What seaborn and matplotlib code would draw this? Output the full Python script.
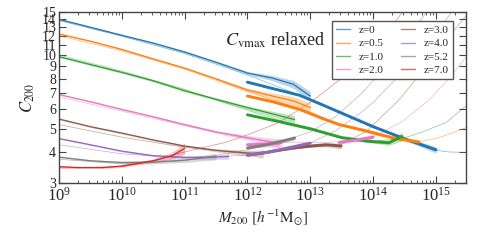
import pandas as pd
import matplotlib
matplotlib.use('Agg')
import matplotlib.pyplot as plt
import matplotlib.ticker as mticker
from matplotlib.lines import Line2D
import seaborn as sns

# redshift labels and colours
redshifts = ['0', '0.5', '1.0', '2.0', '3.0', '4.0', '5.2', '7.0']
colors = ['#1f77b4', '#ff7f0e', '#2ca02c', '#e377c2', '#8c564b', '#9467bd', '#7f7f7f', '#d62728']

# low-mass data: (log10 M200, C200, band half-width)
med_z0 = [(9.0, 14.0, .1), (9.5, 13.0, .1), (10.0, 12.05, .1), (10.5, 11.2, .1), (11.0, 10.3, .1),
          (11.5, 9.35, .1), (12.0, 8.45, .12), (12.4, 8.05, .2), (12.73, 7.6, .28), (13.0, 6.8, .3)]
med_z05 = [(9.0, 12.2, .08), (9.5, 11.4, .08), (10.0, 10.55, .08), (10.5, 9.65, .08), (11.0, 8.85, .08),
           (11.5, 8.0, .08), (12.0, 7.2, .12), (12.4, 6.8, .2), (12.73, 6.5, .28), (13.0, 6.1, .3)]
med_z1 = [(9.0, 9.85, .08), (9.5, 9.15, .08), (10.0, 8.5, .08), (10.5, 7.85, .08), (11.0, 7.15, .08),
          (11.5, 6.6, .08), (12.0, 6.1, .1), (12.4, 5.75, .15), (12.75, 5.45, .2)]
med_z2 = [(9.0, 6.9, .05), (9.5, 6.45, .05), (10.0, 6.0, .05), (10.5, 5.6, .05), (11.0, 5.2, .05),
          (11.5, 4.85, .07), (12.0, 4.6, .1), (12.3, 4.45, .15), (12.55, 4.35, .2)]
med_z3 = [(9.0, 5.48, .04), (9.5, 5.1, .04), (10.0, 4.8, .04), (10.5, 4.5, .04), (11.0, 4.25, .04),
          (11.5, 4.08, .06), (12.0, 3.98, .1), (12.25, 3.95, .15)]
med_z4 = [(9.0, 4.56, .03), (9.5, 4.3, .03), (10.0, 4.05, .03), (10.5, 3.88, .04), (11.0, 3.82, .05),
          (11.4, 3.82, .07), (11.7, 3.85, .1)]
med_z52 = [(9.0, 3.83, .03), (9.5, 3.7, .03), (10.0, 3.64, .04), (10.5, 3.65, .06), (11.0, 3.72, .08),
           (11.5, 3.85, .12)]
med_z7 = [(9.0, 3.5, .03), (9.3, 3.47, .03), (9.7, 3.47, .03), (10.0, 3.52, .04), (10.5, 3.7, .06),
          (10.8, 3.88, .12), (11.0, 4.15, .22)]

# high-mass data: (log10 M200, C200, band half-width)
thick_z0 = [(12.0, 7.75, .05), (12.4, 7.3, .05), (12.83, 6.85, .05), (13.2, 6.25, .05), (13.46, 5.85, .05),
            (14.0, 5.1, .05), (14.5, 4.55, .07), (15.0, 4.1, .12)]
thick_z05 = [(12.0, 6.8, .05), (12.4, 6.45, .05), (12.83, 6.0, .05), (13.2, 5.5, .05), (13.46, 5.2, .05),
             (13.89, 4.9, .05), (14.3, 4.6, .07), (14.73, 4.41, .1)]
thick_z1 = [(12.0, 5.7, .04), (12.5, 5.35, .04), (13.0, 5.0, .04), (13.5, 4.6, .04), (13.9, 4.45, .05),
            (14.25, 4.38, .1), (14.46, 4.65, .2)]
thick_z2 = [(12.0, 4.3, .12), (12.25, 4.32, .12), (12.5, 4.36, .15)]
thick_z2b = [(13.46, 4.4, .08), (13.75, 4.5, .08), (14.0, 4.62, .12)]
thick_z3 = [(12.0, 3.9, .04), (12.3, 4.0, .04), (12.71, 4.17, .04), (13.0, 4.25, .05), (13.25, 4.3, .08),
            (13.49, 4.25, .12)]
thick_z4 = [(12.0, 3.9, .03), (12.3, 4.0, .03), (12.6, 4.15, .04), (13.0, 4.37, .06)]
thick_z52 = [(12.0, 4.17, .04), (12.3, 4.3, .05), (12.55, 4.45, .07), (12.75, 4.58, .1)]

# model curves: (log10 M200, C200)
model_z0 = [(9.0, 13.85), (10.0, 11.95), (11.0, 10.15), (12.0, 8.3), (13.0, 6.6), (13.5, 5.8), (14.0, 5.1),
            (14.5, 4.55), (15.0, 4.08), (15.2, 4.02), (15.48, 4.0)]
model_z05 = [(9.0, 12.0), (10.0, 10.4), (11.0, 8.75), (12.0, 7.1), (13.0, 5.85), (13.5, 5.15), (14.0, 4.75),
             (14.4, 4.5), (14.73, 4.42), (15.05, 4.6), (15.3, 4.85), (15.48, 5.05)]
model_z1 = [(9.0, 10.0), (10.0, 8.6), (11.0, 7.25), (12.0, 5.95), (13.0, 4.95), (13.6, 4.55), (14.0, 4.45),
            (14.46, 4.55), (14.78, 4.85), (15.16, 5.3), (15.48, 6.2)]
model_z2 = [(9.0, 6.75), (10.0, 5.9), (11.0, 5.15), (12.0, 4.55), (12.5, 4.4), (13.0, 4.38), (13.5, 4.42),
            (14.0, 4.62), (14.46, 5.35), (14.89, 6.55), (15.2, 8.0), (15.48, 9.8)]
model_z3 = [(9.0, 5.2), (10.0, 4.62), (11.0, 4.2), (12.0, 3.95), (12.5, 4.05), (13.0, 4.2), (13.49, 4.3),
            (13.9, 4.9), (14.41, 6.55), (14.8, 8.7), (15.1, 11.0), (15.48, 14.5)]
model_z4 = [(9.0, 4.3), (10.0, 3.95), (11.0, 3.8), (12.0, 3.9), (12.5, 4.1), (13.0, 4.37), (13.4, 4.9),
            (13.78, 5.75), (14.0, 6.4), (14.5, 8.7), (15.0, 12.3), (15.25, 15.0)]
model_z52 = [(9.0, 3.75), (10.0, 3.6), (11.0, 3.7), (12.0, 4.1), (12.5, 4.4), (13.0, 4.85), (13.4, 5.6),
             (13.8, 6.9), (14.3, 9.6), (14.85, 15.0)]
model_z7 = [(9.0, 3.45), (10.0, 3.5), (10.5, 3.68), (10.97, 4.0), (11.67, 4.41), (12.03, 4.75), (12.5, 5.3),
            (13.0, 6.4), (13.46, 7.9), (14.0, 10.5), (14.46, 14.9)]

med = [med_z0, med_z05, med_z1, med_z2, med_z3, med_z4, med_z52, med_z7]
thick = [[thick_z0], [thick_z05], [thick_z1], [thick_z2, thick_z2b], [thick_z3], [thick_z4], [thick_z52], []]
model = [model_z0, model_z05, model_z1, model_z2, model_z3, model_z4, model_z52, model_z7]

sns.set_style('ticks')
plt.rcParams['font.family'] = ['Liberation Serif', 'DejaVu Serif']
plt.rcParams['mathtext.fontset'] = 'stix'


def draw_band(ax, pts, color, lw, zorder):
    df = pd.DataFrame(pts, columns=['logm', 'c', 'err'])
    df['m'] = 10 ** df['logm']
    ax.fill_between(df['m'], df['c'] - df['err'], df['c'] + df['err'], color=color, alpha=0.3, lw=0,
                    zorder=zorder)
    sns.lineplot(data=df, x='m', y='c', color=color, lw=lw, ax=ax, estimator=None, sort=False,
                 legend=False, zorder=zorder + 0.5)


fig = plt.figure(figsize=(4.91, 2.45), dpi=100)
ax = fig.add_axes([0.120, 0.253, 0.829, 0.698])
ax.set_xscale('log')
ax.set_yscale('log')

for i, col in enumerate(colors):
    dfm = pd.DataFrame(model[i], columns=['logm', 'c'])
    dfm['m'] = 10 ** dfm['logm']
    sns.lineplot(data=dfm, x='m', y='c', color=col, lw=0.5, alpha=0.55, ax=ax, estimator=None,
                 sort=False, legend=False, zorder=1)
    draw_band(ax, med[i], col, 0.9, 2)
    for seg in thick[i]:
        draw_band(ax, seg, col, 2.1, 3)

ax.set_xlim(1e9, 3e15)
ax.set_ylim(3, 15)
yt = list(range(3, 16))
ax.yaxis.set_major_locator(mticker.FixedLocator(yt))
ax.yaxis.set_major_formatter(mticker.FixedFormatter([str(v) for v in yt]))
ax.yaxis.set_minor_locator(mticker.NullLocator())
ax.xaxis.set_major_locator(mticker.FixedLocator([10.0 ** k for k in range(9, 16)]))
ax.xaxis.set_major_formatter(mticker.LogFormatterMathtext())
ax.xaxis.set_minor_locator(mticker.FixedLocator([s * 10.0 ** k for k in range(9, 16) for s in range(2, 10)
                                                 if s * 10.0 ** k <= 3e15]))
ax.xaxis.set_minor_formatter(mticker.NullFormatter())
ax.tick_params(which='both', direction='in', top=True, right=True, color='#444444')
ax.tick_params(which='major', length=5, width=0.8)
ax.tick_params(which='minor', length=2.5, width=0.6)
ax.tick_params(axis='x', labelsize=12, pad=3)
ax.tick_params(axis='y', labelsize=10, pad=2)
for s in ax.spines.values():
    s.set_color('#444444')
    s.set_linewidth(1.0)

ax.set_xlabel(r'$M_{200}\ [h^{-1}{\rm M}_{\odot}]$', fontsize=11, labelpad=2)
ax.set_ylabel(r'$C_{200}$', fontsize=12, labelpad=4)
ax.text(0.53, 0.835, r'$C_{\rm vmax}$ relaxed', transform=ax.transAxes, fontsize=13,
        ha='center', va='center')

handles = [Line2D([], [], color=c, lw=1.0, alpha=0.7) for c in colors]
labels = ['z=' + z for z in redshifts]
leg = ax.legend(handles, labels, ncol=2, loc='upper right', bbox_to_anchor=(0.968, 0.947),
                borderaxespad=0, fontsize=8, frameon=True, fancybox=False, framealpha=1,
                edgecolor='#555555', handlelength=1.2, handletextpad=0.8, columnspacing=1.6,
                labelspacing=0.3, borderpad=0.4)
leg.get_frame().set_linewidth(1.0)
leg.set_zorder(10)

fig.savefig('out.png', dpi=100)
